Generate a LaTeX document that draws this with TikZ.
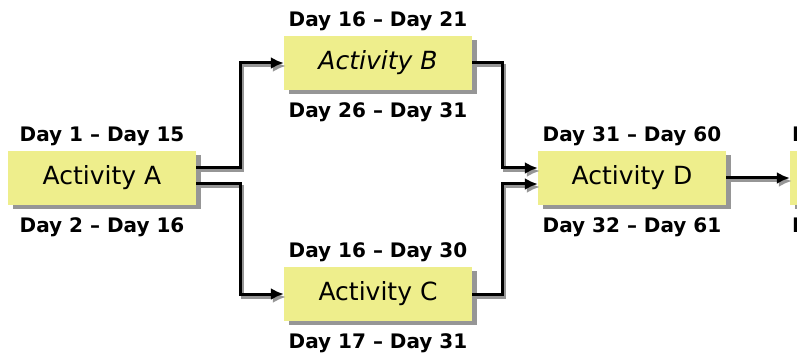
\documentclass[tikz,border=0pt]{standalone}
\usepackage{fontspec}
\setmainfont{DejaVu Sans}
\usetikzlibrary{positioning,shadows,arrows.meta}
\definecolor{boxyellow}{RGB}{238,238,140}
\definecolor{shadowgray}{RGB}{150,150,150}

\begin{document}
\begin{tikzpicture}[x=1pt, y=-1pt,
            activity/.style={rectangle, fill=boxyellow, minimum width=188pt, minimum height=54pt, inner sep=0pt,
                font=\fontsize{25}{28}\selectfont,
                drop shadow={shadow xshift=5pt, shadow yshift=-4pt, fill=shadowgray, opacity=1}},
            day/.style={inner sep=0pt, text height=15pt, text depth=5pt, font=\bfseries\fontsize{20}{22}\selectfont},
            arrow/.style={-{Latex[length=13pt, width=12pt]}, line width=3pt}
        ]
            \useasboundingbox (0,0) rectangle (797,358);
            \clip (0,0) rectangle (797,358);

            % Activities
            \node[activity] (a) at (102,178) {Activity A};
            \node[activity] (b) at (378,63) {\itshape Activity B};
            \node[activity] (c) at (378,294) {Activity C};
            \node[activity] (d) at (632,178) {Activity D};
            \node[activity] (e) at (884,178) {};

            % Early dates
            \node[day, above=4pt of a] (a-early) {Day 1 -- Day 15};
            \node[day, above=4pt of b] (b-early) {Day 16 -- Day 21};
            \node[day, above=4pt of c] (c-early) {Day 16 -- Day 30};
            \node[day, above=4pt of d] (d-early) {Day 31 -- Day 60};
            \node[day, above=4pt of e.north west, anchor=south west, xshift=2pt] (e-early) {Day};

            % Late dates
            \node[day, below=12pt of a] (a-late) {Day 2 -- Day 16};
            \node[day, below=12pt of b] (b-late) {Day 26 -- Day 31};
            \node[day, below=12pt of c] (c-late) {Day 17 -- Day 31};
            \node[day, below=12pt of d] (d-late) {Day 32 -- Day 61};
            \node[day, below=12pt of e.south west, anchor=north west, xshift=2pt] (e-late) {Day};

            % Arrows (gray shadow first, then black)
            \foreach \col/\dx/\dy in {shadowgray/2pt/-3pt, black/0pt/0pt} {
                \begin{scope}[transform canvas={shift={(\dx,\dy)}}, draw=\col, fill=\col]
                    \draw[arrow] ([yshift=10pt]a.east) -- ++(44,0) |- (b.west);
                    \draw[arrow] ([yshift=-6pt]a.east) -- ++(44,0) |- (c.west);
                    \draw[arrow] (b.east) -- ++(30,0) |- ([yshift=10pt]d.west);
                    \draw[arrow] (c.east) -- ++(30,0) |- ([yshift=-6pt]d.west);
                    \draw[arrow] (d.east) -- (e.west);
                \end{scope}
            }
        \end{tikzpicture}
\end{document}
